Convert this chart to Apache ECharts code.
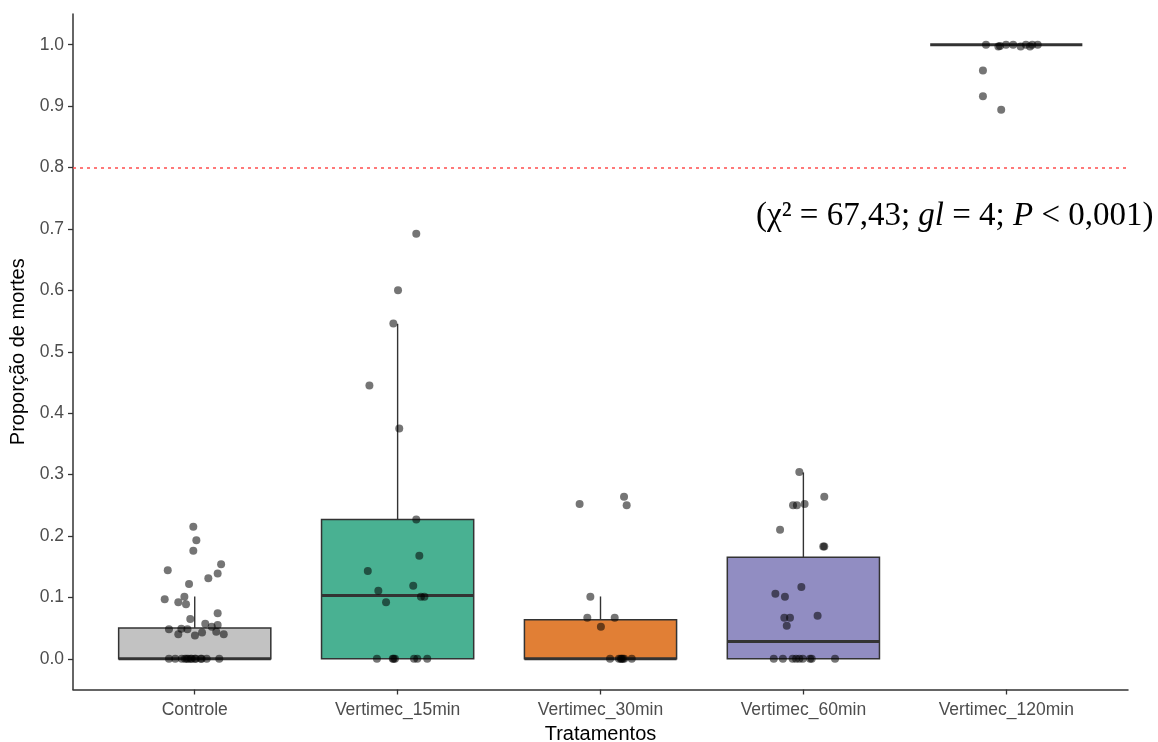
<!DOCTYPE html>
<html>
<head>
<meta charset="utf-8">
<script src="https://cdn.jsdelivr.net/npm/echarts@6/dist/echarts.min.js"></script>
<style>
html,body{margin:0;padding:0;background:#fff;}
#chart{width:1158px;height:742px;}
</style>
</head>
<body>
<div id="chart"></div>
<script>
// ---- Data ----
const categories = ['Controle', 'Vertimec_15min', 'Vertimec_30min', 'Vertimec_60min', 'Vertimec_120min'];
const yTicks = [0, 0.1, 0.2, 0.3, 0.4, 0.5, 0.6, 0.7, 0.8, 0.9, 1.0];

// box statistics per treatment
const boxLow    = [0, 0, 0, 0, 1.0];
const boxQ1     = [0, 0, 0, 0, 1.0];
const boxMedian = [0, 0.103, 0, 0.028, 1.0];
const boxQ3     = [0.050, 0.227, 0.0635, 0.1655, 1.0];
const boxHigh   = [0.1015, 0.5455, 0.1015, 0.3035, 1.0];
const boxColors = ['#c2c2c2', '#49b192', '#e17f35', '#918dc2', '#bdbdbd'];

// jittered points: values and horizontal jitter (in category units)
const controleValues = [0.215, 0.193, 0.176, 0.154, 0.144, 0.139, 0.131, 0.122, 0.101, 0.097, 0.092, 0.089, 0.074, 0.065, 0.057, 0.055, 0.052, 0.048, 0.049, 0.048, 0.040, 0.043, 0.038, 0.044, 0.040,
  0, 0, 0, 0, 0, 0, 0, 0, 0, 0, 0, 0, 0, 0];
const controleJitter = [-0.007, 0.008, -0.007, 0.130, -0.133, 0.113, 0.067, -0.028, -0.051, -0.148, -0.081, -0.043, 0.113, -0.022, 0.052, 0.113, 0.084, -0.127, -0.066, -0.036, -0.081, 0.036, 0.001, 0.106, 0.143,
  -0.127, -0.096, -0.064, -0.048, -0.032, -0.015, 0.001, 0.034, 0.059, 0.121, -0.040, -0.020, 0.005, 0.030];

const v15Values = [0.692, 0.600, 0.546, 0.445, 0.375, 0.227, 0.168, 0.143, 0.111, 0.119, 0.092, 0.101, 0.101, 0, 0, 0, 0, 0, 0, 0];
const v15Jitter = [0.092, 0.002, -0.021, -0.139, 0.008, 0.092, 0.107, -0.147, -0.095, 0.077, -0.057, 0.115, 0.132, -0.102, -0.024, -0.013, 0.081, 0.097, 0.146, -0.020];

const v30Values = [0.252, 0.264, 0.250, 0.101, 0.067, 0.067, 0.052, 0, 0, 0, 0, 0, 0, 0];
const v30Jitter = [-0.103, 0.116, 0.129, -0.050, -0.065, 0.070, 0.002, 0.047, 0.091, 0.104, 0.117, 0.154, 0.100, 0.110];

const v60Values = [0.304, 0.264, 0.250, 0.250, 0.252, 0.210, 0.183, 0.183, 0.117, 0.106, 0.101, 0.070, 0.067, 0.067, 0.054, 0, 0, 0, 0, 0, 0, 0, 0, 0];
const v60Jitter = [-0.020, 0.103, -0.051, -0.032, 0.006, -0.115, 0.098, 0.103, -0.010, -0.138, -0.091, 0.070, -0.094, -0.066, -0.082, -0.146, -0.101, -0.053, -0.036, -0.020, -0.003, 0.033, 0.041, 0.156];

const v120Values = [1.0, 0.997, 0.998, 1.0, 1.0, 0.997, 1.0, 0.997, 1.0, 1.0, 0.958, 0.916, 0.894];
const v120Jitter = [-0.100, -0.039, -0.031, -0.001, 0.034, 0.071, 0.097, 0.117, 0.128, 0.155, -0.115, -0.115, -0.025];

const referenceLine = 0.8;

// ---- Build ----
const pointGroups = [
  [controleValues, controleJitter],
  [v15Values, v15Jitter],
  [v30Values, v30Jitter],
  [v60Values, v60Jitter],
  [v120Values, v120Jitter]
];
const pointData = [];
pointGroups.forEach(function (g, i) {
  g[0].forEach(function (v, k) { pointData.push([i + 1 + g[1][k], v]); });
});
const boxData = categories.map(function (c, i) {
  return [i + 1, boxLow[i], boxQ1[i], boxMedian[i], boxQ3[i], boxHigh[i]];
});

const HALF = 0.375;
function renderBox(params, api) {
  const x = api.value(0), lo = api.value(1), q1 = api.value(2), md = api.value(3), q3 = api.value(4), hi = api.value(5);
  const idx = params.dataIndex;
  const tl = api.coord([x - HALF, q3]);
  const br = api.coord([x + HALF, q1]);
  const pHi = api.coord([x, hi]), pQ3 = api.coord([x, q3]);
  const pLo = api.coord([x, lo]), pQ1 = api.coord([x, q1]);
  const mL = api.coord([x - HALF, md]), mR = api.coord([x + HALF, md]);
  const stroke = '#333333';
  const children = [];
  if (hi > q3) children.push({ type: 'line', shape: { x1: pHi[0], y1: pHi[1], x2: pQ3[0], y2: pQ3[1] }, style: { stroke: stroke, lineWidth: 1.4 } });
  if (lo < q1) children.push({ type: 'line', shape: { x1: pLo[0], y1: pLo[1], x2: pQ1[0], y2: pQ1[1] }, style: { stroke: stroke, lineWidth: 1.4 } });
  if (q3 > q1) children.push({ type: 'rect', shape: { x: tl[0], y: tl[1], width: br[0] - tl[0], height: br[1] - tl[1] }, style: { fill: boxColors[idx], stroke: stroke, lineWidth: 1.5 } });
  children.push({ type: 'line', shape: { x1: mL[0], y1: mL[1], x2: mR[0], y2: mR[1] }, style: { stroke: stroke, lineWidth: 3 } });
  return { type: 'group', children: children };
}

const chart = echarts.init(document.getElementById('chart'), null, { renderer: 'canvas' });
chart.setOption({
  animation: false,
  backgroundColor: '#ffffff',
  grid: { left: 73, right: 30, top: 14, bottom: 52.5, containLabel: false, outerBoundsMode: 'none' },
  xAxis: {
    type: 'value', min: 0.4, max: 5.6,
    splitLine: { show: false },
    axisLine: { show: true, onZero: false, lineStyle: { color: '#333333', width: 1.5 } },
    axisTick: { show: true, length: 5, lineStyle: { color: '#333333', width: 1.3 }, customValues: [1, 2, 3, 4, 5] },
    axisLabel: { customValues: [1, 2, 3, 4, 5], formatter: function (v) { return categories[Math.round(v) - 1]; }, color: '#4d4d4d', fontSize: 17.5, fontFamily: 'Liberation Sans, Arial, sans-serif', margin: 12 },
    name: 'Tratamentos', nameLocation: 'middle', nameGap: 34,
    nameTextStyle: { color: '#000', fontSize: 20, fontFamily: 'Liberation Sans, Arial, sans-serif' }
  },
  yAxis: {
    type: 'value', min: -0.05, max: 1.05,
    splitLine: { show: false },
    axisLine: { show: true, onZero: false, lineStyle: { color: '#333333', width: 1.5 } },
    axisTick: { show: true, length: 5, lineStyle: { color: '#333333', width: 1.3 }, customValues: yTicks },
    axisLabel: { customValues: yTicks, formatter: function (v) { return v.toFixed(1); }, color: '#4d4d4d', fontSize: 17.5, fontFamily: 'Liberation Sans, Arial, sans-serif', margin: 9 },
    name: 'Proporção de mortes', nameLocation: 'middle', nameGap: 41,
    nameTextStyle: { color: '#000', fontSize: 20, fontFamily: 'Liberation Sans, Arial, sans-serif' }
  },
  series: [
    {
      type: 'custom', name: 'box', renderItem: renderBox, data: boxData,
      encode: { x: 0, y: [1, 2, 3, 4, 5] }, z: 2, silent: true
    },
    {
      type: 'scatter', name: 'points', data: pointData, symbol: 'circle', symbolSize: 8,
      itemStyle: { color: 'rgba(0,0,0,0.68)' }, z: 3, silent: true,
      markLine: {
        silent: true, symbol: ['none', 'none'], label: { show: false },
        lineStyle: { color: '#ff4d4d', type: [3, 4], width: 1.5 },
        data: [{ yAxis: referenceLine }]
      }
    }
  ],
  graphic: [{
    type: 'text', left: 756, top: 200, z: 10,
    style: {
      text: '{n|(χ² = 67,43; }{i|gl}{n| = 4; }{i|P}{n| < 0,001)}',
      rich: {
        n: { fontFamily: 'Liberation Serif, Times New Roman, serif', fontSize: 33, fill: '#000' },
        i: { fontFamily: 'Liberation Serif, Times New Roman, serif', fontSize: 33, fontStyle: 'italic', fill: '#000' }
      }
    }
  }]
});
</script>
</body>
</html>
